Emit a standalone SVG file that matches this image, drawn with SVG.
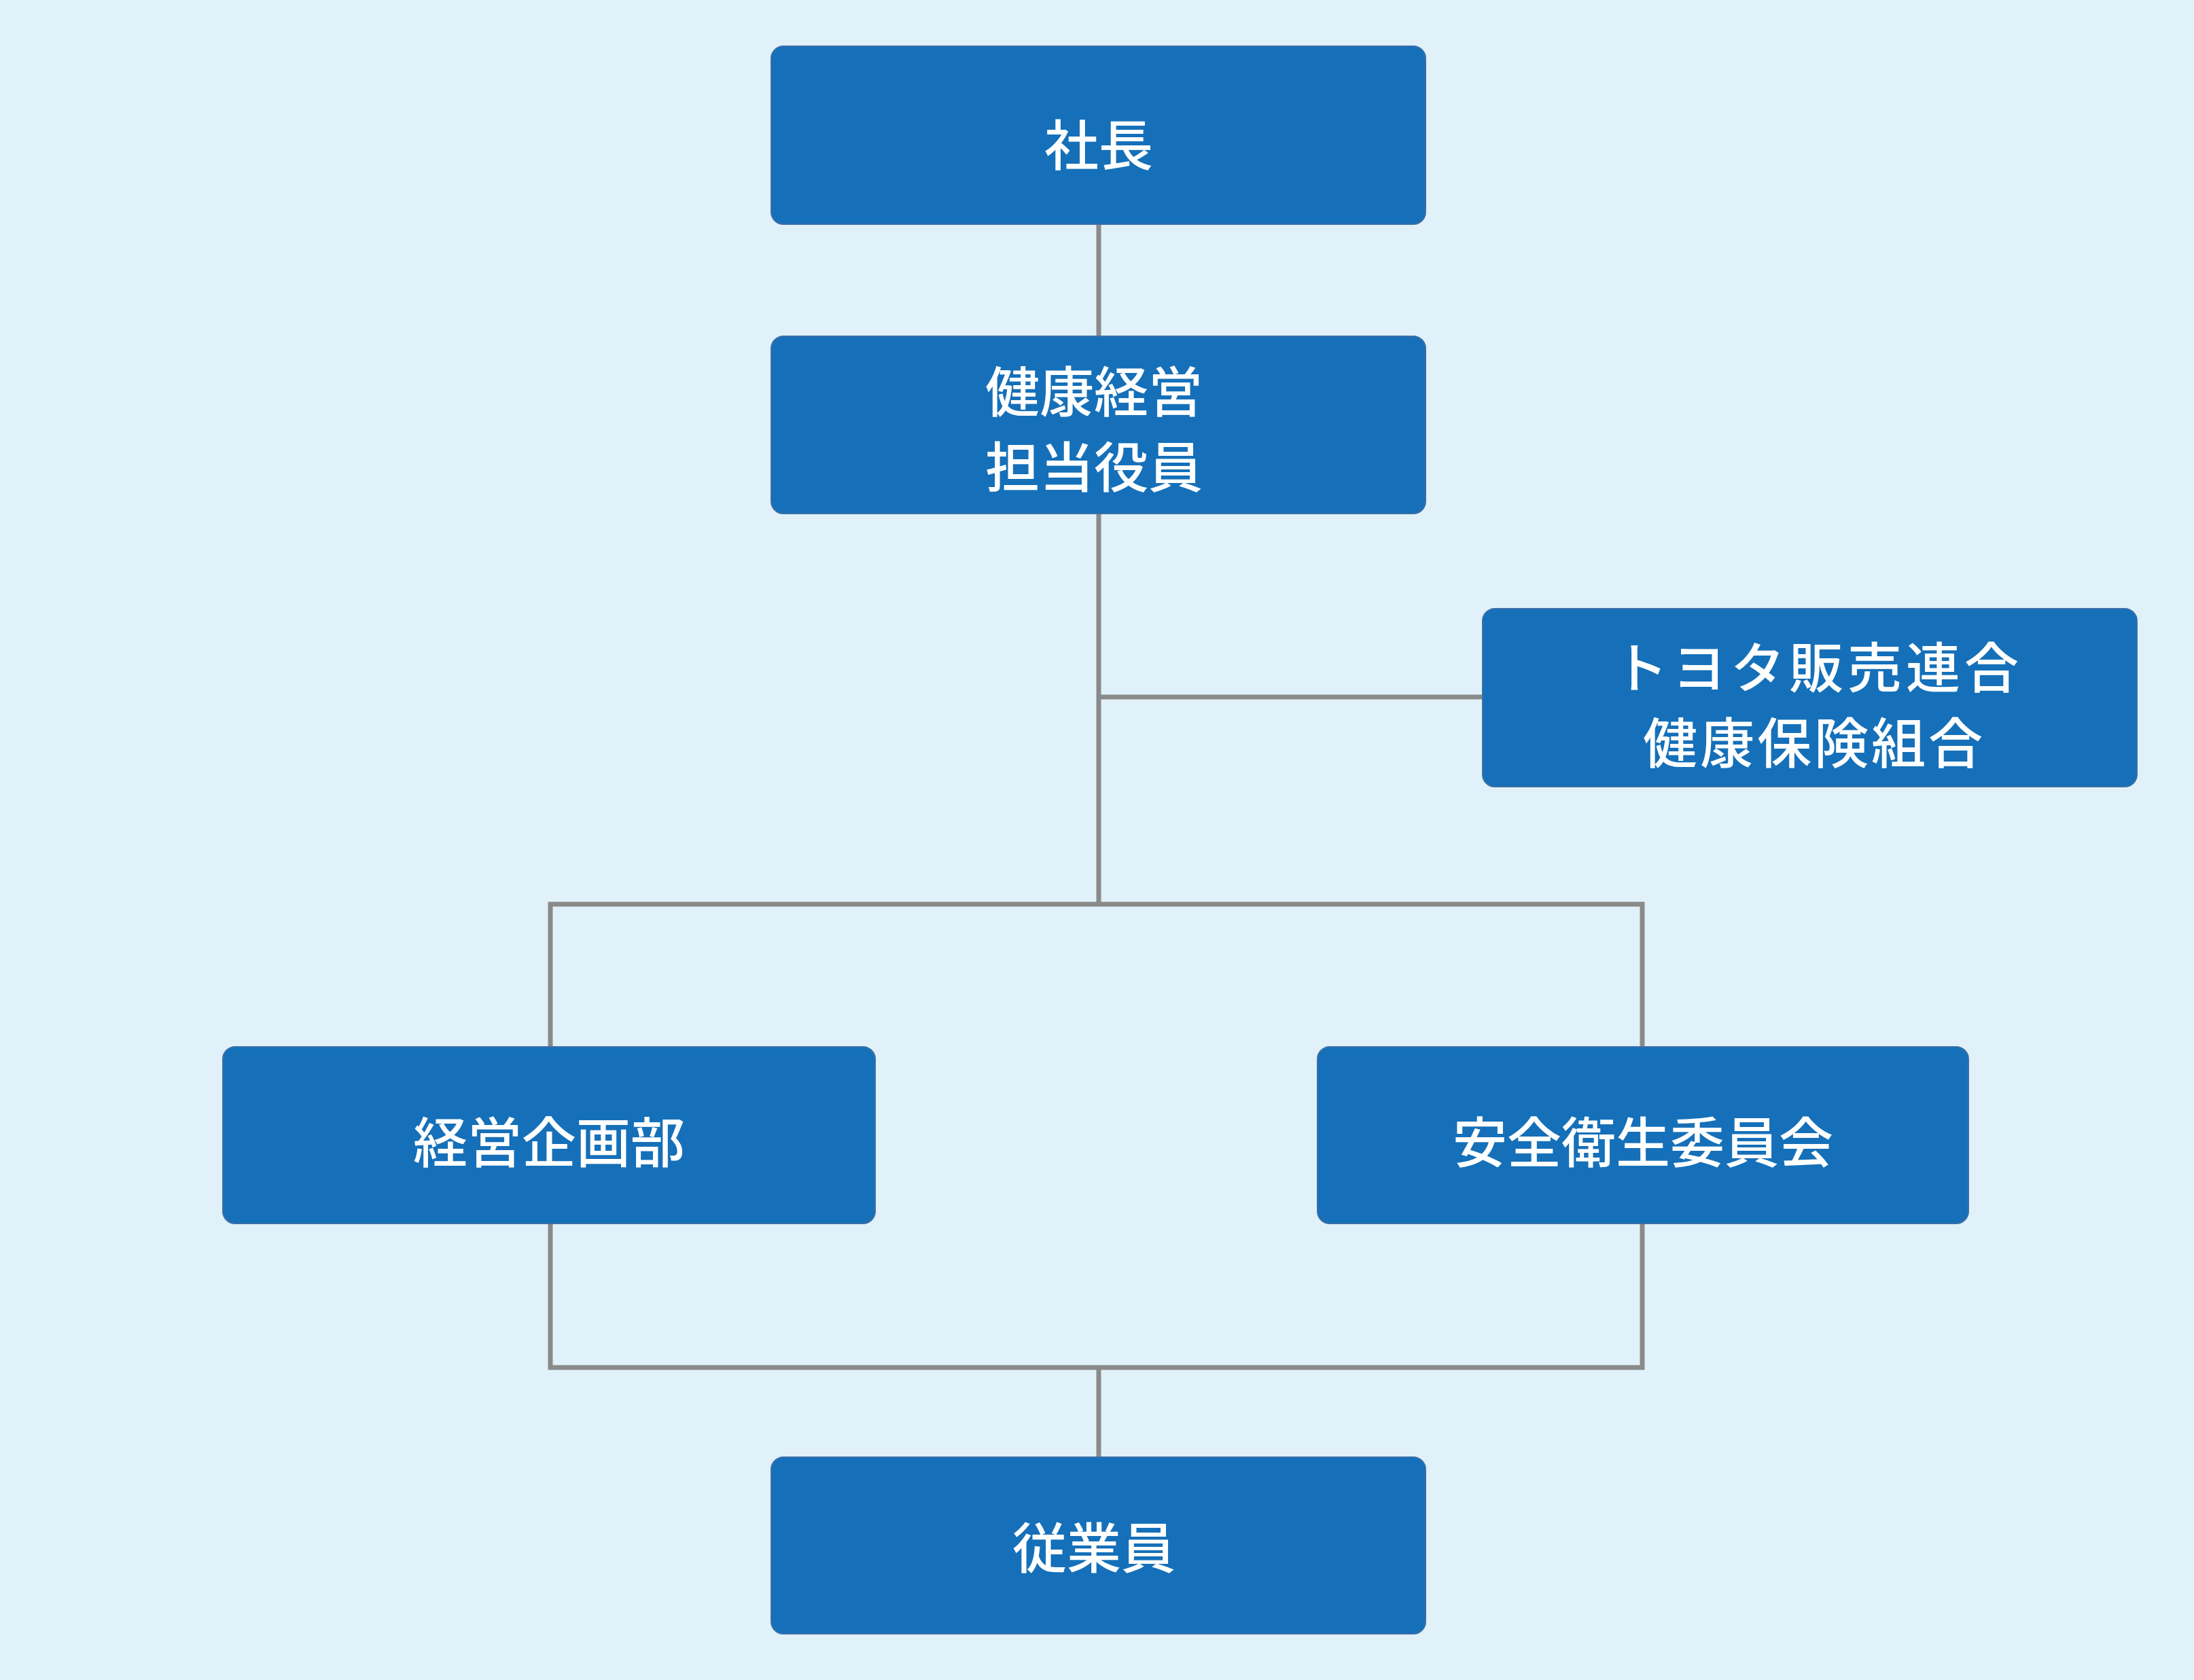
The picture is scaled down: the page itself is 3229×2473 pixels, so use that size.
<svg xmlns="http://www.w3.org/2000/svg" width="3229" height="2473" viewBox="0 0 3229 2473">
<style>
.box{fill:#1570b9;stroke:#3b6fa8;stroke-width:2}
.t{fill:#fff;font-family:"Noto Sans CJK JP","Noto Sans CJK SC",sans-serif;font-size:80px;font-weight:500;text-anchor:middle;dominant-baseline:central}
.c{stroke:#8a8a8a;stroke-width:7;fill:none}
</style>
<rect width="3229" height="2473" fill="#e0f1f9"/>
<g id="connectors">
<line class="c" x1="1617" y1="330" x2="1617" y2="495"/>
<line class="c" x1="1617" y1="756" x2="1617" y2="1331"/>
<line class="c" x1="1617" y1="1026" x2="2182" y2="1026"/>
<polyline class="c" points="810,1541 810,1331 2417,1331 2417,1541"/>
<polyline class="c" points="810,1801 810,2013 2417,2013 2417,1801"/>
<line class="c" x1="1617" y1="2013" x2="1617" y2="2145"/>
</g>
<g id="n1"><rect class="box" x="1135" y="68" width="963" height="262" rx="18"/><text class="t" x="1617" y="208">社長</text></g>
<g id="n2"><rect class="box" x="1135" y="495" width="963" height="261" rx="18"/><text class="t" x="1610" y="571">健康経営</text><text class="t" x="1610" y="682">担当役員</text></g>
<g id="n3"><rect class="box" x="2182" y="896" width="963" height="262" rx="18"/><text class="t" x="2676" y="977" letter-spacing="6">トヨタ販売連合</text><text class="t" x="2670" y="1088" letter-spacing="4">健康保険組合</text></g>
<g id="n4"><rect class="box" x="328" y="1541" width="960" height="260" rx="18"/><text class="t" x="808" y="1676">経営企画部</text></g>
<g id="n5"><rect class="box" x="1939" y="1541" width="958" height="260" rx="18"/><text class="t" x="2418" y="1676">安全衛生委員会</text></g>
<g id="n6"><rect class="box" x="1135" y="2145" width="963" height="260" rx="18"/><text class="t" x="1610" y="2273">従業員</text></g>
</svg>
